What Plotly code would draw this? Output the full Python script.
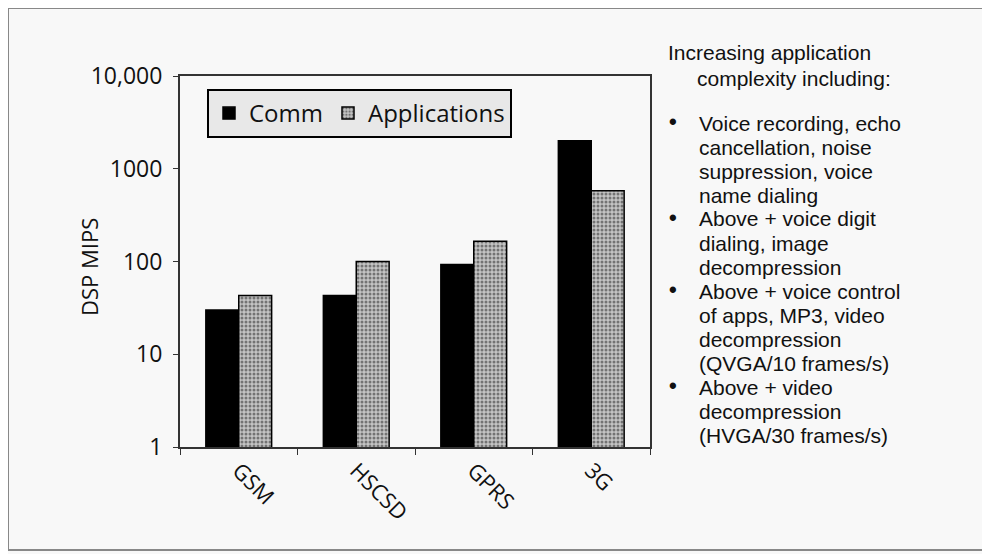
import plotly.graph_objects as go

categories = ["GSM", "HSCSD", "GPRS", "3G"]
comm = [30, 43, 93, 2000]
applications = [43, 100, 165, 580]
ytick_vals = [1, 10, 100, 1000, 10000]
ytick_text = ["1", "10", "100", "1000", "10,000"]

side_lines = [
    ("Increasing application", 667, 53, False),
    ("complexity including:", 696, 78, False),
    ("Voice recording, echo", 698, 123, True),
    ("cancellation, noise", 698, 147, False),
    ("suppression, voice", 698, 171, False),
    ("name dialing", 698, 195, False),
    ("Above + voice digit", 698, 219, True),
    ("dialing, image", 698, 243, False),
    ("decompression", 698, 267, False),
    ("Above + voice control", 698, 291, True),
    ("of apps, MP3, video", 698, 315, False),
    ("decompression", 698, 339, False),
    ("(QVGA/10 frames/s)", 698, 363, False),
    ("Above + video", 698, 387, True),
    ("decompression", 698, 411, False),
    ("(HVGA/30 frames/s)", 698, 435, False),
]

OFF = 8  # page body margin
W, H = 990 - OFF, 554 - OFF
L, R, T, B = 180, 650, 76, 447
FONT = "Open Sans"
SIDE_FONT = "Liberation Sans"
INK = "#111111"

def px(x):
    return (x - L) / (R - L)

def py(y):
    return (B - y) / (B - T)

fig = go.Figure()
fig.add_trace(go.Bar(
    name="Comm", x=categories, y=comm,
    marker=dict(color="#000000", line=dict(color="#000000", width=1.5)),
))
fig.add_trace(go.Bar(
    name="Applications", x=categories, y=applications,
    marker=dict(color="#bdbdbd", line=dict(color="#000000", width=1.5),
                pattern=dict(shape=".", fgcolor="#222222", bgcolor="#c4c4c4",
                             size=4, solidity=0.45)),
))

annotations = [
    dict(text="DSP MIPS", x=px(89), y=py(267), xref="paper", yref="paper",
         textangle=-90, showarrow=False,
         font=dict(family=FONT, size=22, color=INK),
         xanchor="center", yanchor="middle"),
]
for text, x, y, bullet in side_lines:
    annotations.append(dict(text=text, x=px(x), y=py(y), xref="paper", yref="paper",
                            showarrow=False, xanchor="left", yanchor="middle",
                            borderpad=0,
                            font=dict(family=SIDE_FONT, size=21, color=INK)))
    if bullet:
        annotations.append(dict(text="•", x=px(673), y=py(y - 2), xref="paper", yref="paper",
                                showarrow=False, xanchor="center", yanchor="middle",
                                borderpad=0,
                                font=dict(family=SIDE_FONT, size=22, color=INK, weight=700)))

fig.update_layout(
    width=W, height=H,
    margin=dict(l=L - OFF, r=W - (R - OFF), t=T - OFF, b=H - (B - OFF), pad=0),
    paper_bgcolor="#f8f8f8", plot_bgcolor="#f8f8f8",
    barmode="group", bargap=0.44, bargroupgap=0.0,
    font=dict(family=FONT, color=INK),
    showlegend=True,
    legend=dict(orientation="h", x=px(207), y=py(89), xanchor="left", yanchor="top",
                bgcolor="#e8e8e8", bordercolor="#000000", borderwidth=2,
                font=dict(family=FONT, size=24, color=INK), itemwidth=30,
                traceorder="normal"),
    xaxis=dict(showline=True, linecolor="#333333", linewidth=2, mirror=True,
               ticks="outside", tickson="boundaries", ticklen=6, tickcolor="#333333",
               tickangle=45, tickfont=dict(family=FONT, size=22, color=INK),
               showgrid=False),
    yaxis=dict(type="log", range=[0, 4], showline=True, linecolor="#333333", linewidth=2,
               mirror=True, ticks="outside", ticklen=5, tickcolor="#333333",
               tickvals=ytick_vals, ticktext=ytick_text, ticklabelstandoff=6,
               tickfont=dict(family=FONT, size=23, color=INK), showgrid=False,
               zeroline=False),
    annotations=annotations,
    shapes=[dict(type="rect", xref="paper", yref="paper",
                 x0=px(8), x1=px(989), y0=py(550), y1=py(8),
                 line=dict(color="#888888", width=2))],
)

fig.write_html("out.html")
